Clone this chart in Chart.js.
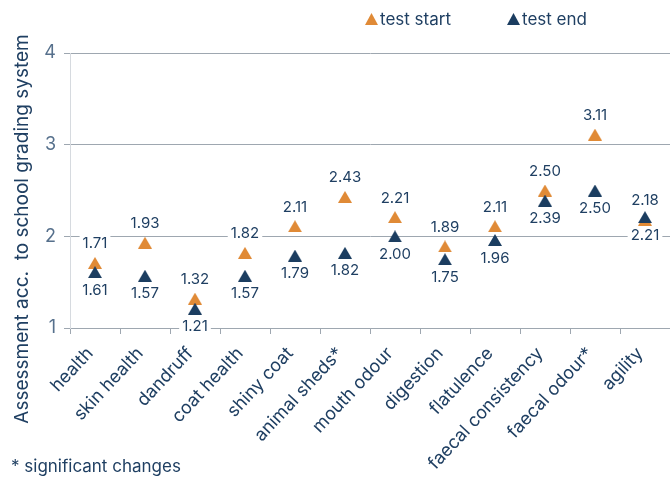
<!DOCTYPE html>
<html>
<head>
<meta charset="utf-8">
<script src="https://cdn.jsdelivr.net/npm/chart.js@4.4.1/dist/chart.umd.min.js"></script>
<style>
  html, body { margin: 0; padding: 0; background: #fff; }
  #wrap { width: 670px; height: 482px; }
</style>
</head>
<body>
<div id="wrap"><canvas id="myChart"></canvas></div>
<script>
// Chart values
const categories = ["health", "skin health", "dandruff", "coat health", "shiny coat", "animal sheds*",
  "mouth odour", "digestion", "flatulence", "faecal consistency", "faecal odour*", "agility"];
const testStart = [1.71, 1.93, 1.32, 1.82, 2.11, 2.43, 2.21, 1.89, 2.11, 2.50, 3.11, 2.18];
const testEnd = [1.61, 1.57, 1.21, 1.57, 1.79, 1.82, 2.00, 1.75, 1.96, 2.39, 2.50, 2.21];
const seriesNames = ["test start", "test end"];
const yTicks = [1, 2, 3, 4];

const ORANGE = "#e08a36";
const NAVY = "#1b3d60";
const TEXT = "#1f3f62";
const GRID = "#9ea7b0";
const FONT = "Inter";

// Triangle marker centred on its bounding box (drawn as an image point style)
function triangleIcon(color) {
  const c = document.createElement("canvas");
  c.width = 14;
  c.height = 12;
  const g = c.getContext("2d");
  g.fillStyle = color;
  g.beginPath();
  g.moveTo(7, 0);
  g.lineTo(14, 12);
  g.lineTo(0, 12);
  g.closePath();
  g.fill();
  return c;
}

// Value labels above (start) / below (end) each marker, on a white box
const pointLabels = {
  id: "pointLabels",
  afterDatasetsDraw(chart) {
    const ctx = chart.ctx;
    ctx.save();
    ctx.font = "15px " + FONT;
    ctx.textAlign = "center";
    ctx.textBaseline = "middle";
    chart.data.datasets.forEach((ds, i) => {
      const meta = chart.getDatasetMeta(i);
      meta.data.forEach((pt, j) => {
        const text = ds.data[j].toFixed(2);
        const y = pt.y + (i === 0 ? -19 : 18);
        const w = ctx.measureText(text).width;
        ctx.fillStyle = "#fff";
        ctx.fillRect(pt.x - w / 2 - 3, y - 8, w + 6, 16);
        ctx.fillStyle = TEXT;
        ctx.fillText(text, pt.x, y);
      });
    });
    ctx.restore();
  }
};

// Legend, axis title and footnote
const extraText = {
  id: "extraText",
  afterDraw(chart) {
    const ctx = chart.ctx;
    ctx.save();
    ctx.textBaseline = "middle";
    ctx.textAlign = "left";
    ctx.font = "17px " + FONT;
    const legendX = [365, 507];
    const colors = [ORANGE, NAVY];
    seriesNames.forEach((name, i) => {
      const x = legendX[i];
      ctx.fillStyle = colors[i];
      ctx.beginPath();
      ctx.moveTo(x + 6.5, 13);
      ctx.lineTo(x + 13, 25);
      ctx.lineTo(x, 25);
      ctx.closePath();
      ctx.fill();
      ctx.fillStyle = TEXT;
      ctx.fillText(name, x + 15, 20);
    });

    // y axis title
    ctx.save();
    ctx.translate(22, 229);
    ctx.rotate(-Math.PI / 2);
    ctx.textAlign = "center";
    ctx.font = "19px " + FONT;
    ctx.fillStyle = TEXT;
    ctx.fillText("Assessment acc.  to school grading system", 0, 0);
    ctx.restore();

    // footnote
    ctx.font = "17px " + FONT;
    ctx.fillStyle = TEXT;
    ctx.fillText("* significant changes", 11, 467);
    ctx.restore();
  }
};

const ctx = document.getElementById("myChart").getContext("2d");
new Chart(ctx, {
  type: "line",
  data: {
    labels: categories,
    datasets: [
      {
        label: seriesNames[0],
        data: testStart,
        showLine: false,
        pointStyle: triangleIcon(ORANGE),
        borderColor: ORANGE,
        order: 1
      },
      {
        label: seriesNames[1],
        data: testEnd,
        showLine: false,
        pointStyle: triangleIcon(NAVY),
        borderColor: NAVY,
        order: 0
      }
    ]
  },
  options: {
    responsive: true,
    maintainAspectRatio: false,
    animation: false,
    layout: { autoPadding: false, padding: { top: 53, left: 0, right: 0, bottom: 0 } },
    plugins: {
      legend: { display: false },
      tooltip: { enabled: false }
    },
    scales: {
      x: {
        offset: true,
        grid: { offset: true, drawOnChartArea: false, color: GRID, tickLength: 6 },
        border: { color: GRID },
        ticks: {
          color: TEXT,
          font: { family: FONT, size: 18 },
          minRotation: 47,
          maxRotation: 47,
          padding: 9,
          labelOffset: -5,
          autoSkip: false
        },
        afterFit(scale) {
          scale.height = 154;
          scale.paddingLeft = 0;
          scale.paddingRight = 0;
        }
      },
      y: {
        min: 1,
        max: 4,
        afterBuildTicks(scale) { scale.ticks = yTicks.map(v => ({ value: v })); },
        grid: { color: GRID, tickLength: 6 },
        border: { color: "#d6dadf" },
        ticks: {
          color: "#56708c",
          font: { family: FONT, size: 18 },
          padding: 8
        },
        afterFit(scale) { scale.width = 70; }
      }
    }
  },
  plugins: [pointLabels, extraText]
});
</script>
</body>
</html>
